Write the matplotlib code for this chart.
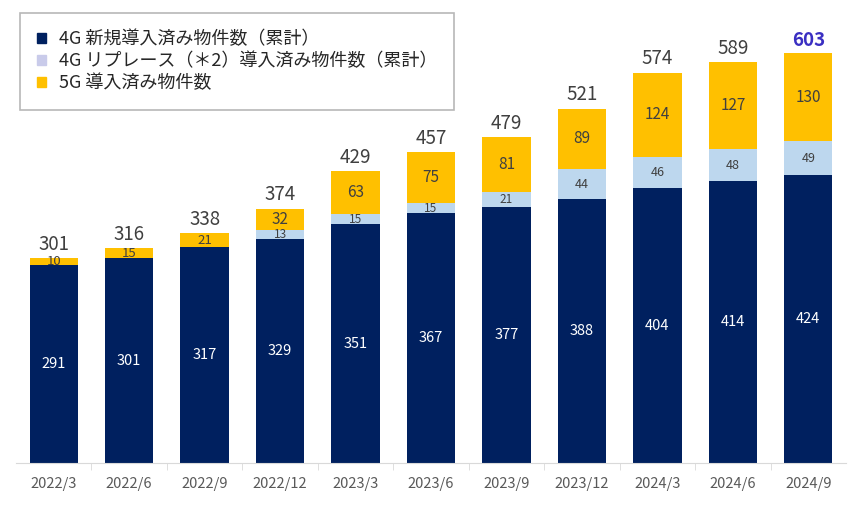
import matplotlib.pyplot as plt
from matplotlib.patches import Patch
import numpy as np

plt.rcParams['font.family'] = ['Noto Sans CJK JP', 'DejaVu Sans']

# data
periods = ['2022/3', '2022/6', '2022/9', '2022/12', '2023/3', '2023/6',
           '2023/9', '2023/12', '2024/3', '2024/6', '2024/9']
new_4g = [291, 301, 317, 329, 351, 367, 377, 388, 404, 414, 424]
replace_4g = [0, 0, 0, 13, 15, 15, 21, 44, 46, 48, 49]
g5 = [10, 15, 21, 32, 63, 75, 81, 89, 124, 127, 130]
series_names = ['4G 新規導入済み物件数（累計）',
                '4G リプレース（＊2）導入済み物件数（累計）',
                '5G 導入済み物件数']

c_navy = '#00205F'
c_light = '#BDD7EE'
c_gold = '#FFC000'
c_text = '#404040'

fig = plt.figure(figsize=(8.6, 5.08), dpi=100)
ax = fig.add_axes([16 / 860, 45 / 508, 830 / 860, 453 / 508])

x = np.arange(len(periods))
w = 0.64
new_4g = np.array(new_4g)
replace_4g = np.array(replace_4g)
g5 = np.array(g5)

ax.bar(x, new_4g, w, color=c_navy)
ax.bar(x, replace_4g, w, bottom=new_4g, color=c_light)
ax.bar(x, g5, w, bottom=new_4g + replace_4g, color=c_gold)

totals = new_4g + replace_4g + g5

for i in range(len(x)):
    # 4G new
    ax.text(x[i], new_4g[i] / 2, str(new_4g[i]), ha='center', va='center',
            color='white', fontsize=10.5)
    # replace
    if replace_4g[i] > 0:
        ax.text(x[i], new_4g[i] + replace_4g[i] / 2, str(replace_4g[i]),
                ha='center', va='center', color=c_text, fontsize=8.5 if replace_4g[i] < 30 else 9)
    # 5G
    fs = 9.5 if g5[i] < 30 else 11
    ax.text(x[i], new_4g[i] + replace_4g[i] + g5[i] / 2, str(g5[i]),
            ha='center', va='center', color=c_text, fontsize=fs)
    # total
    if i == len(x) - 1:
        ax.text(x[i], totals[i] + 5, str(totals[i]), ha='center', va='bottom',
                color='#3A2FC2', fontsize=13.5, fontweight='bold')
    else:
        ax.text(x[i], totals[i] + 5, str(totals[i]), ha='center', va='bottom',
                color=c_text, fontsize=13.5)

ax.set_xlim(-0.5, len(x) - 0.5)
ax.set_ylim(0, 453 / 0.68)
ax.set_xticks(x)
ax.set_xticklabels(periods, color='#595959', fontsize=10.5)
ax.tick_params(axis='x', which='major', length=0, pad=10)
ax.set_xticks(x[:-1] + 0.5, minor=True)
ax.tick_params(axis='x', which='minor', length=5, color='#D9D9D9')
ax.set_yticks([])
for s in ['top', 'right', 'left']:
    ax.spines[s].set_visible(False)
ax.spines['bottom'].set_color('#D9D9D9')

handles = [Patch(color=c_navy), Patch(color='#C9CBEA'), Patch(color=c_gold)]
leg = ax.legend(handles, series_names, loc='upper left', bbox_to_anchor=(4 / 830, 1 - 3 / 453),
                borderaxespad=0, fontsize=13, frameon=True, fancybox=False, edgecolor='#A6A6A6',
                handlelength=0.5, handleheight=0.5, handletextpad=0.7,
                labelspacing=0.23, borderpad=0.95, labelcolor='#262626')
leg.get_frame().set_linewidth(1.2)

fig.savefig('out.png', dpi=100)
